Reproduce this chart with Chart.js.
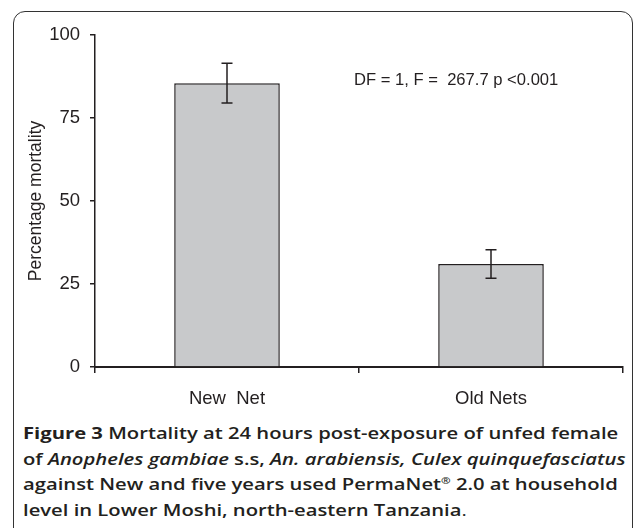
<!DOCTYPE html>
<html>
<head>
<meta charset="utf-8">
<script src="https://cdn.jsdelivr.net/npm/chart.js@4.4.1/dist/chart.umd.min.js"></script>
<style>
  html, body { margin: 0; padding: 0; background: #fff; }
  body { width: 633px; height: 528px; position: relative; overflow: hidden; }
  #frame {
    position: absolute; left: 13px; top: 11px; width: 620px; height: 600px;
    border: 1.5px solid #333; border-radius: 12px; box-sizing: border-box;
  }
  #wrap { position: absolute; left: 0; top: 0; width: 633px; height: 420px; }
  #caption {
    position: absolute; left: 23px; top: 421px; width: 610px;
    font-family: "Open Sans", sans-serif; font-size: 15.8px; font-weight: 600;
    line-height: 25.6px; color: #231f20; white-space: nowrap;
    transform: scaleX(1.28); transform-origin: 0 0;
  }
  #caption b { font-weight: 700; }
  #caption sup { font-size: 9px; line-height: 0; }
  #caption .dot { font-weight: 400; }
</style>
</head>
<body>
<div id="frame"></div>
<div id="wrap"><canvas id="chart" width="633" height="420"></canvas></div>
<div id="caption">
  <b>Figure 3</b> Mortality at 24 hours post-exposure of unfed female<br>
  of <i>Anopheles gambiae</i> s.s, <i>An. arabiensis, Culex quinquefasciatus</i><br>
  against New and five years used PermaNet<sup>®</sup> 2.0 at household<br>
  level in Lower Moshi, north-eastern Tanzania<span class="dot">.</span>
</div>
<script>
// values
const categories = ["New  Net", "Old Nets"];
const mortality = [85.5, 31];
const errors = [6, 4.3];
const yTicks = [0, 25, 50, 75, 100];
const statsText = "DF = 1, F =  267.7 p <0.001";

const axisFont = { family: "'Liberation Sans Narrow', 'Arial Narrow', 'Liberation Sans', Arial", size: 18.5 };

// error bars + stats note
const errorBarPlugin = {
  id: "errorBars",
  afterDatasetsDraw(chart) {
    const ctx = chart.ctx;
    const x = chart.scales.x;
    const y = chart.scales.y;
    ctx.save();
    ctx.strokeStyle = "#231f20";
    ctx.lineWidth = 1.5;
    mortality.forEach((v, i) => {
      const cx = x.getPixelForValue(i);
      const top = y.getPixelForValue(v + errors[i]);
      const bot = y.getPixelForValue(v - errors[i]);
      ctx.beginPath();
      ctx.moveTo(cx, top); ctx.lineTo(cx, bot);
      ctx.moveTo(cx - 5.5, top); ctx.lineTo(cx + 5.5, top);
      ctx.moveTo(cx - 5.5, bot); ctx.lineTo(cx + 5.5, bot);
      ctx.stroke();
    });
    // stats text
    ctx.fillStyle = "#231f20";
    ctx.font = "16.6px 'Liberation Sans', Arial";
    ctx.textBaseline = "middle";
    ctx.fillText(statsText, 354, 80);
    ctx.restore();
  }
};

new Chart(document.getElementById("chart"), {
  type: "bar",
  data: {
    labels: categories,
    datasets: [{
      data: mortality,
      backgroundColor: "#c8c9cb",
      borderColor: "#231f20",
      borderWidth: 1.5,
      barPercentage: 0.8,
      categoryPercentage: 0.5
    }]
  },
  options: {
    responsive: false,
    animation: false,
    devicePixelRatio: 1,
    layout: { padding: { left: 0, right: 10, top: 35, bottom: 0 } },
    plugins: { legend: { display: false }, tooltip: { enabled: false } },
    scales: {
      x: {
        grid: { display: true, offset: true, drawOnChartArea: false, drawTicks: true, tickLength: 6, color: "#231f20", lineWidth: 1.5 },
        border: { display: true, color: "#231f20", width: 2 },
        ticks: { color: "#231f20", font: axisFont, padding: 15 },
        afterFit(s) { s.height = 53; }
      },
      y: {
        min: 0, max: 100,
        afterBuildTicks(s) { s.ticks = yTicks.map(v => ({ value: v })); },
        grid: { display: true, drawOnChartArea: false, drawTicks: true, tickLength: 5, color: "#231f20", lineWidth: 1.5 },
        border: { display: true, color: "#231f20", width: 1.5 },
        ticks: { color: "#231f20", font: axisFont, padding: 10 },
        title: {
          display: true, text: "Percentage mortality", color: "#231f20",
          font: { family: "'Liberation Sans', Arial", size: 17.5 },
          padding: { top: 26, bottom: 0 }
        },
        afterFit(s) { s.width = 95; }
      }
    }
  },
  plugins: [errorBarPlugin]
});
</script>
</body>
</html>
